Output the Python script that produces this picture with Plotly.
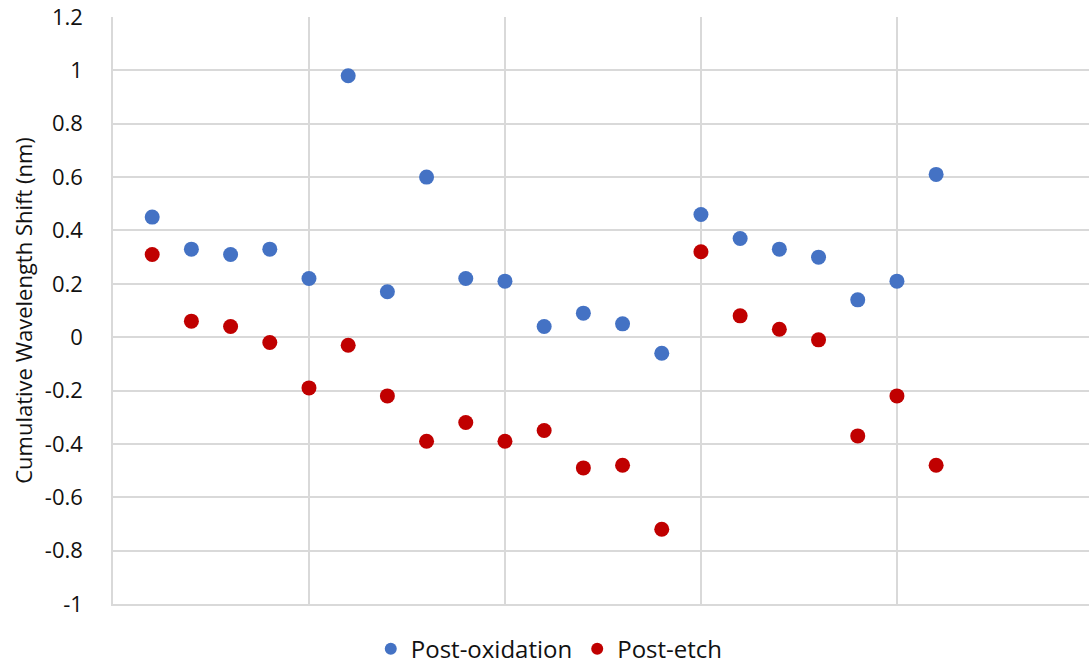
import plotly.graph_objects as go

x_vals = list(range(1, 22))
post_oxidation = [0.45, 0.33, 0.31, 0.33, 0.22, 0.98, 0.17, 0.60, 0.22, 0.21, 0.04,
                  0.09, 0.05, -0.06, 0.46, 0.37, 0.33, 0.30, 0.14, 0.21, 0.61]
post_etch = [0.31, 0.06, 0.04, -0.02, -0.19, -0.03, -0.22, -0.39, -0.32, -0.39, -0.35,
             -0.49, -0.48, -0.72, 0.32, 0.08, 0.03, -0.01, -0.37, -0.22, -0.48]
y_ticks = [1.2, 1, 0.8, 0.6, 0.4, 0.2, 0, -0.2, -0.4, -0.6, -0.8, -1]

font_family = "Open Sans, Noto Sans, sans-serif"

fig = go.Figure()
fig.add_trace(go.Scatter(x=x_vals, y=post_oxidation, mode="markers", name="Post-oxidation",
                         marker=dict(color="#4472C4", size=15)))
fig.add_trace(go.Scatter(x=x_vals, y=post_etch, mode="markers", name="Post-etch",
                         marker=dict(color="#C00000", size=15)))

fig.update_layout(
    width=1089, height=665,
    margin=dict(l=113, r=0, t=17, b=61, autoexpand=False),
    paper_bgcolor="white", plot_bgcolor="white",
    font=dict(family=font_family, size=22, color="#111111"),
    showlegend=True,
    legend=dict(orientation="h", x=0.447, xanchor="center",
                yref="container", y=0.024, yanchor="middle",
                font=dict(size=24), itemsizing="constant", traceorder="normal"),
)
fig.update_xaxes(range=[0, 24.9], dtick=5, tick0=0, showticklabels=False, showgrid=True,
                 gridcolor="#D9D9D9", gridwidth=1.5, zeroline=False,
                 showline=True, linecolor="#D9D9D9", linewidth=1.5, ticks="")
fig.update_yaxes(range=[-1, 1.2], tickvals=y_ticks, ticktext=[f"{v:g}" for v in y_ticks],
                 showgrid=True, gridcolor="#D9D9D9", gridwidth=1.5, zeroline=False,
                 showline=True, linecolor="#D9D9D9", linewidth=1.5, ticks="",
                 ticklabelstandoff=24,
                 title=dict(text="Cumulative Wavelength Shift (nm)", font=dict(size=22), standoff=6))

fig.write_html("out.html")
